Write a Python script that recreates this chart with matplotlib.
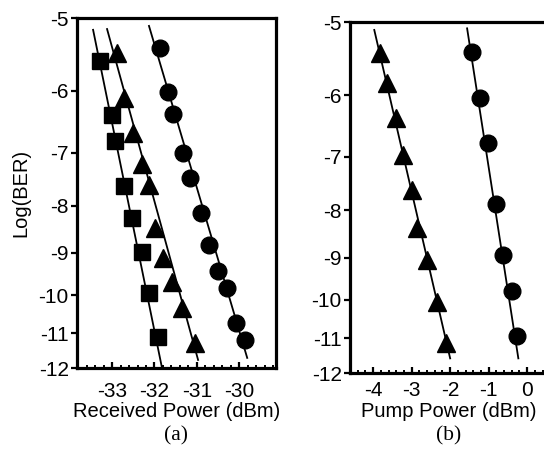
import numpy as np
import matplotlib
matplotlib.use("Agg")
import matplotlib.pyplot as plt
from matplotlib.ticker import MultipleLocator, FixedLocator

plt.rcParams['font.family'] = ['Liberation Sans', 'DejaVu Sans']

# panel (a): received power (dBm) vs log(BER)
a_sq_x = [-33.28, -33.00, -32.93, -32.72, -32.53, -32.29, -32.13, -31.91]
a_sq_y = [-5.57, -6.37, -6.80, -7.61, -8.25, -8.97, -9.95, -11.10]
a_tri_x = [-32.88, -32.72, -32.50, -32.29, -32.13, -31.98, -31.80, -31.58, -31.35, -31.05]
a_tri_y = [-5.46, -6.11, -6.67, -7.21, -7.59, -8.45, -9.11, -9.68, -10.33, -11.27]
a_cir_x = [-31.87, -31.68, -31.56, -31.33, -31.15, -30.90, -30.71, -30.50, -30.28, -30.07, -29.87]
a_cir_y = [-5.39, -6.02, -6.36, -7.01, -7.46, -8.14, -8.82, -9.42, -9.82, -10.72, -11.19]
# fit lines (end points)
a_sq_fit_x = [-33.45, -31.83]
a_sq_fit_y = [-5.15, -11.95]
a_tri_fit_x = [-33.12, -30.97]
a_tri_fit_y = [-5.14, -11.76]
a_cir_fit_x = [-32.13, -29.81]
a_cir_fit_y = [-5.10, -11.70]

# panel (b): pump power (dBm) vs log(BER)
b_tri_x = [-3.82, -3.64, -3.40, -3.22, -2.99, -2.86, -2.60, -2.34, -2.10]
b_tri_y = [-5.40, -5.82, -6.35, -6.97, -7.60, -8.36, -9.05, -10.05, -11.13]
b_cir_x = [-1.43, -1.22, -1.01, -0.81, -0.62, -0.39, -0.26]
b_cir_y = [-5.39, -6.04, -6.76, -7.87, -8.94, -9.78, -10.94]
b_tri_fit_x = [-3.97, -2.00]
b_tri_fit_y = [-5.10, -11.57]
b_cir_fit_x = [-1.56, -0.23]
b_cir_fit_y = [-5.08, -11.57]

y_ticks = [-5, -6, -7, -8, -9, -10, -11, -12]


def fwd(y):
    return -np.log10(np.clip(-np.asarray(y, dtype=float), 1e-6, None))


def inv(f):
    return -10 ** (-np.asarray(f, dtype=float))


def style_axes(ax, xlim, xticks, xpad):
    ax.set_yscale('function', functions=(fwd, inv))
    ax.set_ylim(-12, -5)
    ax.set_xlim(*xlim)
    ax.yaxis.set_major_locator(FixedLocator(y_ticks))
    ax.yaxis.set_minor_locator(FixedLocator([]))
    ax.set_yticklabels([str(t) for t in y_ticks])
    ax.xaxis.set_major_locator(FixedLocator(xticks))
    ax.set_xticklabels([str(t) for t in xticks])
    ax.xaxis.set_minor_locator(MultipleLocator(0.2))
    for s in ax.spines.values():
        s.set_linewidth(2.3)
    ax.tick_params(axis='y', direction='out', length=4, width=1.6, labelsize=15, pad=2)
    ax.tick_params(axis='x', which='major', direction='in', length=4.5, width=1.6,
                   labelsize=15, pad=xpad)
    ax.tick_params(axis='x', which='minor', direction='in', length=2.5, width=1.4)


fig = plt.figure(figsize=(5.44, 4.49), dpi=100)
W, H = 544.0, 449.0

ax1 = fig.add_axes([77 / W, 1 - 368 / H, 199 / W, 350 / H])
mk = dict(color='black', linestyle='none', markeredgecolor='black')
ax1.plot(a_sq_fit_x, a_sq_fit_y, color='black', lw=1.3)
ax1.plot(a_tri_fit_x, a_tri_fit_y, color='black', lw=1.3)
ax1.plot(a_cir_fit_x, a_cir_fit_y, color='black', lw=1.3)
ax1.plot(a_sq_x, a_sq_y, marker='s', markersize=11, **mk)
ax1.plot(a_tri_x, a_tri_y, marker='^', markersize=13, **mk)
ax1.plot(a_cir_x, a_cir_y, marker='o', markersize=12, **mk)
style_axes(ax1, (-33.83, -29.13), [-33, -32, -31, -30], 10)
ax1.set_xlabel('Received Power (dBm)', fontsize=14.5, labelpad=1)
ax1.set_ylabel('Log(BER)', fontsize=14.5, labelpad=6)

ax2 = fig.add_axes([350 / W, 1 - 373 / H, 198 / W, 351 / H])
ax2.plot(b_tri_fit_x, b_tri_fit_y, color='black', lw=1.3)
ax2.plot(b_cir_fit_x, b_cir_fit_y, color='black', lw=1.3)
ax2.plot(b_tri_x, b_tri_y, marker='^', markersize=13, **mk)
ax2.plot(b_cir_x, b_cir_y, marker='o', markersize=12, **mk)
style_axes(ax2, (-4.6, 0.54), [-4, -3, -2, -1, 0], 6)
ax2.set_xlabel('Pump Power (dBm)', fontsize=14.5, labelpad=1)

fig.text(176 / W, 1 - 436 / H, '(a)', ha='center', va='center', fontsize=15.5,
         family=['Liberation Serif', 'DejaVu Serif'])
fig.text(449 / W, 1 - 436 / H, '(b)', ha='center', va='center', fontsize=15.5,
         family=['Liberation Serif', 'DejaVu Serif'])

fig.savefig('out.png', dpi=100)
